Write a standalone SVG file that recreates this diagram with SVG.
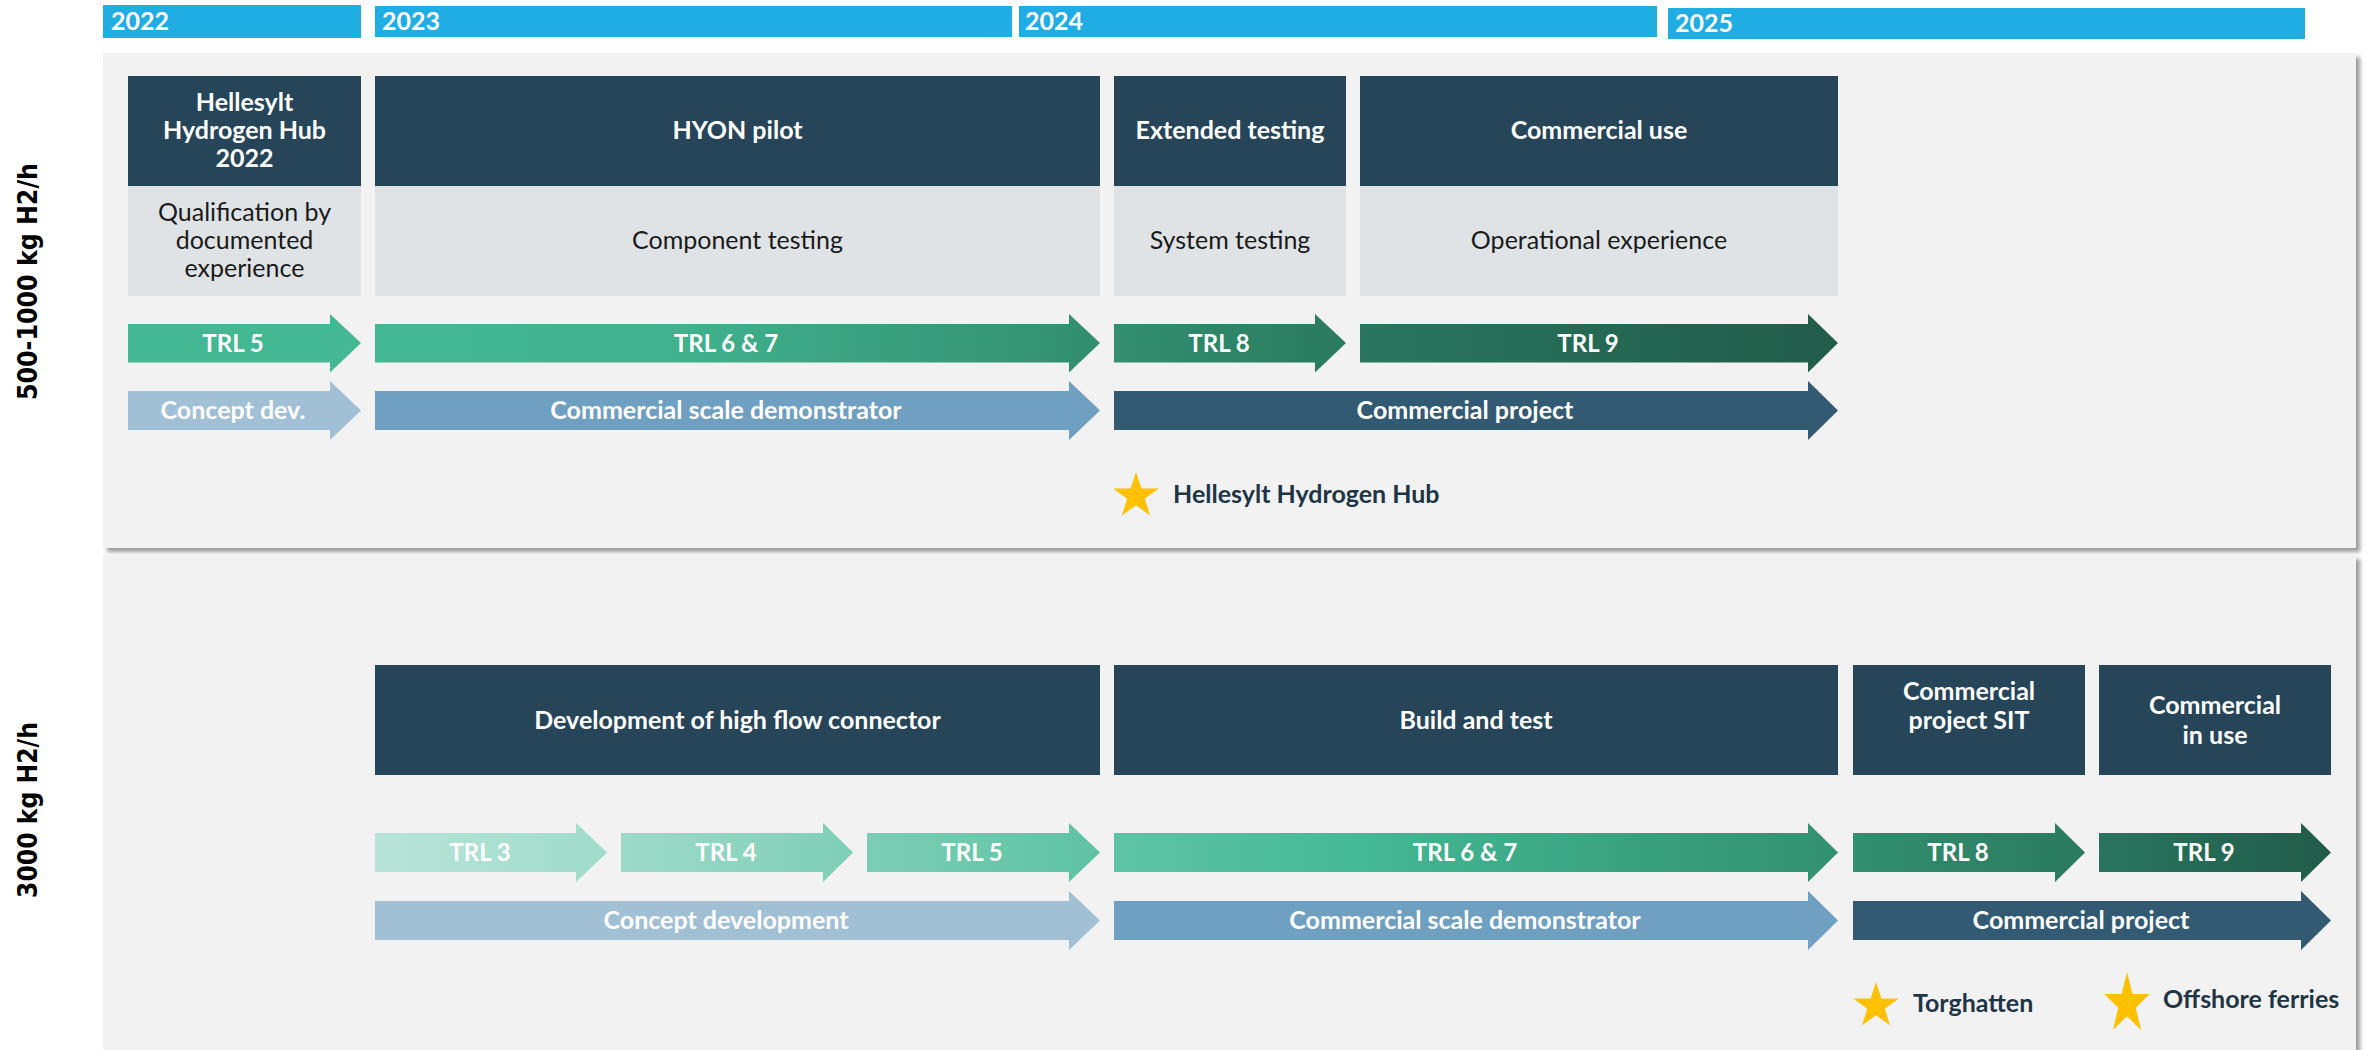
<svg xmlns="http://www.w3.org/2000/svg" width="2369" height="1050" viewBox="0 0 2369 1050">
<style>
.yr{fill:#1FADE4}
.yt{font-family:Lato,"Liberation Sans",sans-serif;font-weight:700;font-size:25px;fill:#fff}
.panel{fill:#F2F2F2}
.dark{fill:#264559}
.light{fill:#DFE3E6}
.tt{font-family:Lato,"Liberation Sans",sans-serif;font-weight:700;font-size:25px;fill:#fff;text-anchor:middle}
.lt{font-family:Lato,"Liberation Sans",sans-serif;font-weight:400;font-size:25px;fill:#1a1a1a;text-anchor:middle}
.at{font-family:Lato,"Liberation Sans",sans-serif;font-weight:700;font-size:24px;fill:#fff;text-anchor:middle}
.at2{font-family:Lato,"Liberation Sans",sans-serif;font-weight:700;font-size:25px;fill:#fff;text-anchor:middle}
.st{font-family:Lato,"Liberation Sans",sans-serif;font-weight:700;font-size:25px;fill:#1F3545}
.side{font-family:"DejaVu Sans",sans-serif;font-weight:700;font-size:26px;fill:#000;text-anchor:middle}
.star{fill:#FFC000}
</style>
<defs>
<filter id="sh" x="-2%" y="-5%" width="104%" height="112%">
<feDropShadow dx="4" dy="4" stdDeviation="2" flood-color="#000" flood-opacity="0.4"/>
</filter>
<path id="starp" d="M0,-24 L5.39,-7.42 L22.82,-7.42 L8.72,2.83 L14.11,19.42 L0,9.17 L-14.11,19.42 L-8.72,2.83 L-22.82,-7.42 L-5.39,-7.42 Z"/>
<linearGradient id="g67a" x1="0" y1="0" x2="1" y2="0"><stop offset="0" stop-color="#43B892"/><stop offset="0.4" stop-color="#41B38E"/><stop offset="1" stop-color="#318E6F"/></linearGradient>
<linearGradient id="g8" x1="0" y1="0" x2="1" y2="0"><stop offset="0" stop-color="#328F70"/><stop offset="1" stop-color="#2A7A5E"/></linearGradient>
<linearGradient id="g9" x1="0" y1="0" x2="1" y2="0"><stop offset="0" stop-color="#29755E"/><stop offset="1" stop-color="#215C49"/></linearGradient>
<linearGradient id="g3" x1="0" y1="0" x2="1" y2="0"><stop offset="0" stop-color="#B8E4D7"/><stop offset="1" stop-color="#A0DCCA"/></linearGradient>
<linearGradient id="g4" x1="0" y1="0" x2="1" y2="0"><stop offset="0" stop-color="#9DDAC8"/><stop offset="1" stop-color="#7ECFB6"/></linearGradient>
<linearGradient id="g5" x1="0" y1="0" x2="1" y2="0"><stop offset="0" stop-color="#7BCEB4"/><stop offset="1" stop-color="#5DC2A3"/></linearGradient>
<linearGradient id="g67b" x1="0" y1="0" x2="1" y2="0"><stop offset="0" stop-color="#5EC4A5"/><stop offset="0.35" stop-color="#44B893"/><stop offset="1" stop-color="#31906F"/></linearGradient>
</defs>

<g id="years">
<rect class="yr" x="103" y="5" width="258" height="33"/>
<text class="yt" x="111" y="30">2022</text>
<rect class="yr" x="375" y="6" width="637" height="31"/>
<text class="yt" x="382" y="30">2023</text>
<rect class="yr" x="1019" y="6" width="638" height="31"/>
<text class="yt" x="1025" y="30">2024</text>
<rect class="yr" x="1668" y="8" width="637" height="31"/>
<text class="yt" x="1675" y="32">2025</text>
</g>

<g id="panels">
<rect class="panel" x="103" y="53" width="2253" height="495" filter="url(#sh)"/>
<rect class="panel" x="103" y="555" width="2253" height="510" filter="url(#sh)"/>
</g>

<g id="side-labels">
<text class="side" transform="translate(37,281.5) rotate(-90)" textLength="237" lengthAdjust="spacingAndGlyphs">500-1000 kg H2/h</text>
<text class="side" transform="translate(37,810) rotate(-90)" textLength="176" lengthAdjust="spacingAndGlyphs">3000 kg H2/h</text>
</g>

<g id="node-hellesylt-2022">
<rect class="dark" x="128" y="76" width="233" height="110"/>
<text class="tt" x="244.5" y="111">Hellesylt</text>
<text class="tt" x="244.5" y="139">Hydrogen Hub</text>
<text class="tt" x="244.5" y="167">2022</text>
<rect class="light" x="128" y="186" width="233" height="110"/>
<text class="lt" x="244.5" y="221">Qualification by</text>
<text class="lt" x="244.5" y="249">documented</text>
<text class="lt" x="244.5" y="277">experience</text>
</g>
<g id="node-hyon-pilot">
<rect class="dark" x="375" y="76" width="725" height="110"/>
<text class="tt" x="737.5" y="139">HYON pilot</text>
<rect class="light" x="375" y="186" width="725" height="110"/>
<text class="lt" x="737.5" y="249">Component testing</text>
</g>
<g id="node-extended-testing">
<rect class="dark" x="1114" y="76" width="232" height="110"/>
<text class="tt" x="1230" y="139">Extended testing</text>
<rect class="light" x="1114" y="186" width="232" height="110"/>
<text class="lt" x="1230" y="249">System testing</text>
</g>
<g id="node-commercial-use">
<rect class="dark" x="1360" y="76" width="478" height="110"/>
<text class="tt" x="1599" y="139">Commercial use</text>
<rect class="light" x="1360" y="186" width="478" height="110"/>
<text class="lt" x="1599" y="249">Operational experience</text>
</g>

<g id="arrows-top">
<g id="a-trl5-top"><path fill="#43B893" d="M128,324 H330 V314 L361,343 L330,372.5 V362.5 H128 Z"/><text class="at" x="233" y="352">TRL 5</text></g>
<g id="a-trl67-top"><path fill="url(#g67a)" d="M375,324 H1069 V314 L1100,343 L1069,372.5 V362.5 H375 Z"/><text class="at" x="726" y="352">TRL 6 &amp; 7</text></g>
<g id="a-trl8-top"><path fill="url(#g8)" d="M1114,324 H1315 V314 L1346,343 L1315,372.5 V362.5 H1114 Z"/><text class="at" x="1219" y="352">TRL 8</text></g>
<g id="a-trl9-top"><path fill="url(#g9)" d="M1360,324 H1808 V314 L1838,343 L1808,372.5 V362.5 H1360 Z"/><text class="at" x="1588" y="352">TRL 9</text></g>
<g id="a-concept-top"><path fill="#A1C0D5" d="M128,391 H330 V381 L361,410.5 L330,440 V430 H128 Z"/><text class="at2" x="233" y="419">Concept dev.</text></g>
<g id="a-csd-top"><path fill="#6FA0C1" d="M375,391 H1069 V381 L1100,410.5 L1069,440 V430 H375 Z"/><text class="at2" x="726" y="419">Commercial scale demonstrator</text></g>
<g id="a-cp-top"><path fill="#335A73" d="M1114,391 H1808 V381 L1838,410.5 L1808,440 V430 H1114 Z"/><text class="at2" x="1465" y="419">Commercial project</text></g>
</g>

<g id="milestone-hellesylt">
<use href="#starp" class="star" transform="translate(1136,496)"/>
<text class="st" x="1173" y="503">Hellesylt Hydrogen Hub</text>
</g>

<g id="node-development">
<rect class="dark" x="375" y="665" width="725" height="110"/>
<text class="tt" x="737.5" y="729">Development of high flow connector</text>
</g>
<g id="node-build-test">
<rect class="dark" x="1114" y="665" width="724" height="110"/>
<text class="tt" x="1476" y="729">Build and test</text>
</g>
<g id="node-commercial-sit">
<rect class="dark" x="1853" y="665" width="232" height="110"/>
<text class="tt" x="1969" y="700">Commercial</text>
<text class="tt" x="1969" y="729">project SIT</text>
</g>
<g id="node-commercial-in-use">
<rect class="dark" x="2099" y="665" width="232" height="110"/>
<text class="tt" x="2215" y="714">Commercial</text>
<text class="tt" x="2215" y="744">in use</text>
</g>

<g id="arrows-bottom">
<g id="a-trl3"><path fill="url(#g3)" d="M375,833 H576 V823 L607,852.5 L576,882 V872 H375 Z"/><text class="at" x="480" y="861">TRL 3</text></g>
<g id="a-trl4"><path fill="url(#g4)" d="M621,833 H823 V823 L853,852.5 L823,882 V872 H621 Z"/><text class="at" x="726" y="861">TRL 4</text></g>
<g id="a-trl5-bottom"><path fill="url(#g5)" d="M867,833 H1069 V823 L1100,852.5 L1069,882 V872 H867 Z"/><text class="at" x="972" y="861">TRL 5</text></g>
<g id="a-trl67-bottom"><path fill="url(#g67b)" d="M1114,833 H1808 V823 L1838,852.5 L1808,882 V872 H1114 Z"/><text class="at" x="1465" y="861">TRL 6 &amp; 7</text></g>
<g id="a-trl8-bottom"><path fill="url(#g8)" d="M1853,833 H2055 V823 L2085,852.5 L2055,882 V872 H1853 Z"/><text class="at" x="1958" y="861">TRL 8</text></g>
<g id="a-trl9-bottom"><path fill="url(#g9)" d="M2099,833 H2301 V823 L2331,852.5 L2301,882 V872 H2099 Z"/><text class="at" x="2204" y="861">TRL 9</text></g>
<g id="a-concept-bottom"><path fill="#A1C0D5" d="M375,901 H1069 V891 L1100,920.5 L1069,950 V940 H375 Z"/><text class="at2" x="726" y="929">Concept development</text></g>
<g id="a-csd-bottom"><path fill="#6FA0C1" d="M1114,901 H1808 V891 L1838,920.5 L1808,950 V940 H1114 Z"/><text class="at2" x="1465" y="929">Commercial scale demonstrator</text></g>
<g id="a-cp-bottom"><path fill="#335A73" d="M1853,901 H2301 V891 L2331,920.5 L2301,950 V940 H1853 Z"/><text class="at2" x="2081" y="929">Commercial project</text></g>
</g>

<g id="milestone-torghatten">
<use href="#starp" class="star" transform="translate(1876,1006)"/>
<text class="st" x="1913" y="1012">Torghatten</text>
</g>
<g id="milestone-offshore">
<use href="#starp" class="star" transform="translate(2127,1004) scale(1,1.336)"/>
<text class="st" x="2163" y="1008">Offshore ferries</text>
</g>
</svg>
